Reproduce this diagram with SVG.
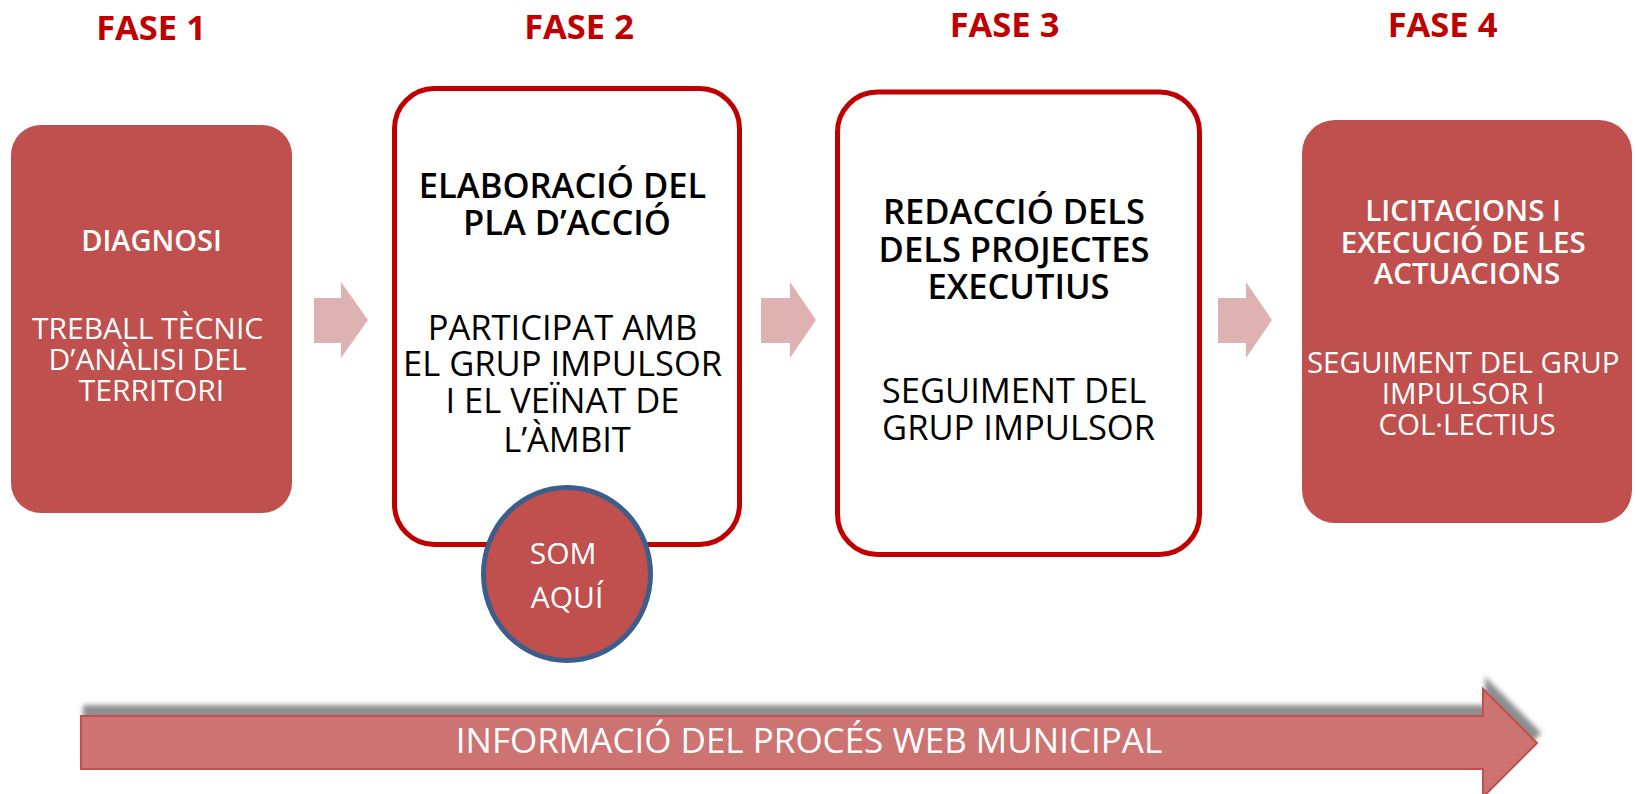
<svg xmlns="http://www.w3.org/2000/svg" width="1636" height="794" viewBox="0 0 1636 794">
  <style>
    .fase { font-family: "Open Sans", "DejaVu Sans", sans-serif; font-weight: bold; font-size: 34.5px; fill: #C00000; text-anchor: middle; }
    .t { font-family: "Open Sans", "DejaVu Sans", sans-serif; text-anchor: middle; }
    .w { fill: #FFFFFF; }
    .k { fill: #000000; }
    .b { font-weight: 600; }
    .filled { fill: #C0504D; }
    .outlined { fill: #FFFFFF; stroke: #C00000; stroke-width: 5; }
    .step { fill: #DDB2B1; }
  </style>
  <defs>
    <filter id="shadow" x="-5%" y="-40%" width="110%" height="180%">
      <feGaussianBlur in="SourceAlpha" stdDeviation="2.5" result="blur"/>
      <feOffset in="blur" dx="3" dy="-10" result="off"/>
      <feFlood flood-color="#7A7A7A" flood-opacity="0.85"/>
      <feComposite in2="off" operator="in" result="sh"/>
      <feMerge>
        <feMergeNode in="sh"/>
        <feMergeNode in="SourceGraphic"/>
      </feMerge>
    </filter>
  </defs>

  <g id="fase-labels">
    <text class="fase" x="151" y="40">FASE 1</text>
    <text class="fase" x="579" y="39">FASE 2</text>
    <text class="fase" x="1004.5" y="37">FASE 3</text>
    <text class="fase" x="1442.5" y="37">FASE 4</text>
  </g>

  <g id="connectors">
    <polygon class="step" points="314,298 341,298 341,282 368,320 341,358 341,343 314,343"/>
    <polygon class="step" points="761,298 790,298 790,282 816,320 790,358 790,343 761,343"/>
    <polygon class="step" points="1218,298 1246,298 1246,282 1272,320 1246,358 1246,343 1218,343"/>
  </g>

  <g id="node-fase1">
    <rect class="filled" x="11" y="125" width="281" height="388" rx="30" ry="30"/>
    <text class="t w b" x="151.5" y="251" font-size="29">DIAGNOSI</text>
    <text class="t w" font-size="30">
      <tspan x="151.5" y="339">TREBALL TÈCNIC</tspan>
      <tspan x="151.5" y="370">D’ANÀLISI DEL</tspan>
      <tspan x="151.5" y="401">TERRITORI</tspan>
    </text>
  </g>

  <g id="node-fase2">
    <rect class="outlined" x="394.5" y="88.5" width="345" height="456" rx="40" ry="40"/>
    <text class="t k b" font-size="34.5">
      <tspan x="567" y="198">ELABORACIÓ DEL</tspan>
      <tspan x="567" y="235">PLA D’ACCIÓ</tspan>
    </text>
    <text class="t k" font-size="34.5">
      <tspan x="567" y="340">PARTICIPAT AMB</tspan>
      <tspan x="567" y="376">EL GRUP IMPULSOR</tspan>
      <tspan x="567" y="412.5">I EL VEÏNAT DE</tspan>
      <tspan x="567" y="451.5">L’ÀMBIT</tspan>
    </text>
  </g>

  <g id="node-som-aqui">
    <ellipse cx="567" cy="574" rx="83.5" ry="86.5" fill="#C0504D" stroke="#3B5E8C" stroke-width="5"/>
    <text class="t w" font-size="30">
      <tspan x="567" y="564">SOM</tspan>
      <tspan x="567" y="608">AQUÍ</tspan>
    </text>
  </g>

  <g id="node-fase3">
    <rect class="outlined" x="837.5" y="92" width="362" height="462.5" rx="40" ry="40"/>
    <text class="t k b" font-size="34.5">
      <tspan x="1018.5" y="224">REDACCIÓ DELS</tspan>
      <tspan x="1018.5" y="261.5">DELS PROJECTES</tspan>
      <tspan x="1018.5" y="299">EXECUTIUS</tspan>
    </text>
    <text class="t k" font-size="34.5">
      <tspan x="1018.5" y="402.5">SEGUIMENT DEL</tspan>
      <tspan x="1018.5" y="439.5">GRUP IMPULSOR</tspan>
    </text>
  </g>

  <g id="node-fase4">
    <rect class="filled" x="1302" y="120" width="330" height="403" rx="33" ry="33"/>
    <text class="t w b" font-size="29.5">
      <tspan x="1467" y="221">LICITACIONS I</tspan>
      <tspan x="1467" y="253">EXECUCIÓ DE LES</tspan>
      <tspan x="1467" y="284">ACTUACIONS</tspan>
    </text>
    <text class="t w" font-size="29.5">
      <tspan x="1467" y="373">SEGUIMENT DEL GRUP</tspan>
      <tspan x="1467" y="404">IMPULSOR I</tspan>
      <tspan x="1467" y="435">COL·LECTIUS</tspan>
    </text>
  </g>

  <g id="node-web">
    <polygon points="81,716 1483,716 1483,689 1537,743 1483,797 1483,769 81,769" fill="#CD7371" stroke="#C0504D" stroke-width="2" filter="url(#shadow)"/>
    <text class="t w" x="809" y="753" font-size="35">INFORMACIÓ DEL PROCÉS WEB MUNICIPAL</text>
  </g>
</svg>
